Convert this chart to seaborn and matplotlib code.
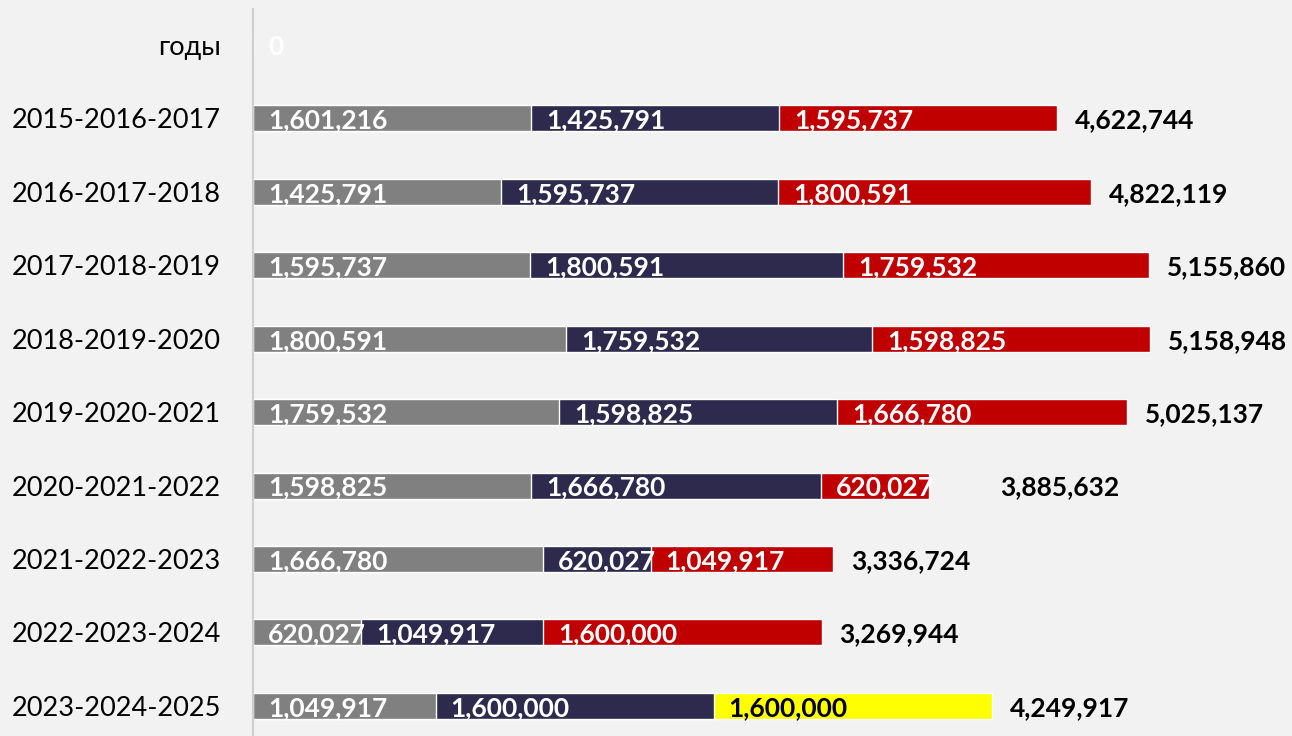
import pandas as pd
import matplotlib.pyplot as plt
import seaborn as sns
from matplotlib.transforms import offset_copy

# three-year windows, values per year of the window
periods = ["годы", "2015-2016-2017", "2016-2017-2018", "2017-2018-2019",
           "2018-2019-2020", "2019-2020-2021", "2020-2021-2022",
           "2021-2022-2023", "2022-2023-2024", "2023-2024-2025"]
year_one = [0, 1601216, 1425791, 1595737, 1800591, 1759532, 1598825, 1666780, 620027, 1049917]
year_two = [0, 1425791, 1595737, 1800591, 1759532, 1598825, 1666780, 620027, 1049917, 1600000]
year_three = [0, 1595737, 1800591, 1759532, 1598825, 1666780, 620027, 1049917, 1600000, 1600000]

df = pd.DataFrame({"period": periods, "one": year_one, "two": year_two, "three": year_three})
df["cum_one"] = df["one"]
df["cum_two"] = df["one"] + df["two"]
df["total"] = df["cum_two"] + df["three"]

bg = '#f2f2f2'
gray, navy, red, yellow = '#808080', '#2e2a4e', '#c00000', '#ffff00'

sns.set_theme(style="white")
plt.rcParams['font.family'] = ['Lato', 'DejaVu Sans']

fig = plt.figure(figsize=(12.92, 7.36), dpi=100, facecolor=bg)
ax = fig.add_axes([253 / 1292, 0, 1 - 253 / 1292, 1 - 9 / 736])
ax.set_facecolor(bg)

bar_kw = dict(orient="h", width=0.355, edgecolor='white', linewidth=1, saturation=1, ax=ax)

# stacked look: draw the running sums from longest to shortest
third_colors = [red] * (len(periods) - 1) + [yellow]
sns.barplot(data=df, y="period", x="total", hue="period", palette=third_colors,
            legend=False, **bar_kw)
n0 = len(ax.patches)
sns.barplot(data=df, y="period", x="cum_two", color=navy, **bar_kw)
n1 = len(ax.patches)
sns.barplot(data=df, y="period", x="cum_one", color=gray, **bar_kw)


def by_row(patches):
    return {int(round(p.get_y() + p.get_height() / 2)): p for p in patches}


third_bars = by_row(ax.patches[:n0])
second_bars = by_row(ax.patches[n0:n1])
first_bars = by_row(ax.patches[n1:])

inset = offset_copy(ax.transData, fig=fig, x=15, y=-2, units='dots')
after = offset_copy(ax.transData, fig=fig, x=18, y=-2, units='dots')
label_kw = dict(fontsize=19, fontweight='bold', va='center', ha='left')

for i, row in df.iterrows():
    if row["total"] == 0:
        ax.text(0, i, "0", color='white', transform=inset, **label_kw)
        continue
    segs = [(0, row["one"], first_bars[i], 'white'),
            (row["cum_one"], row["two"], second_bars[i], 'white'),
            (row["cum_two"], row["three"], third_bars[i],
             'black' if third_colors[i] == yellow else 'white')]
    for start, val, patch, tc in segs:
        t = ax.text(start, i, f"{val:,}", color=tc, transform=inset, zorder=5, **label_kw)
        t.set_clip_path(patch)
    # the 2020-2021-2022 total sits further out in the original
    tr = after if row["period"] != "2020-2021-2022" else offset_copy(
        ax.transData, fig=fig, x=72, y=-2, units='dots')
    ax.text(row["total"], i, f"{row['total']:,}", color='black', transform=tr, **label_kw)

ax.set_xlim(0, 5976000)
ax.set_ylim(9.41, -0.49)
ax.set_xlabel("")
ax.set_ylabel("")
ax.set_xticks([])
ax.tick_params(axis='y', length=0, pad=23, labelsize=19.5, labelcolor='black')
for side in ["top", "right", "bottom"]:
    ax.spines[side].set_visible(False)
ax.spines["left"].set_color('#cfcfcf')
ax.spines["left"].set_linewidth(1.6)

plt.savefig("out.png", dpi=100, facecolor=bg)
